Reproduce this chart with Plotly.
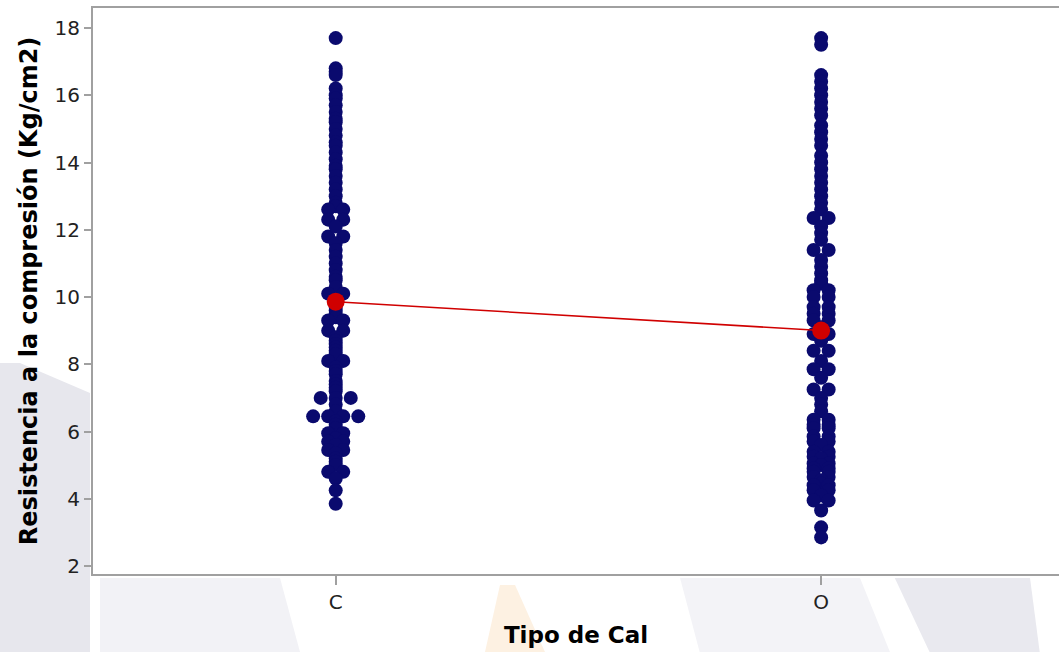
import plotly.graph_objects as go
from collections import defaultdict

# Categories on the x axis
categorias = ["C", "O"]

# Compressive strength readings (Kg/cm2) for lime type C
resistencia_c = [
    17.7,
    16.8, 16.7, 16.6, 16.2, 16.0, 15.9, 15.7, 15.5, 15.3, 15.2, 15.0, 14.8,
    14.6, 14.5, 14.3, 14.1, 13.9, 13.8, 13.6, 13.4, 13.2, 13.0, 12.8, 12.7,
    12.6, 12.6, 12.3, 12.3, 11.8, 11.8,
    12.1, 11.6, 11.4, 11.2, 11.0, 10.8, 10.6, 10.5, 10.3,
    10.1, 10.1,
    9.9, 9.8, 9.7, 9.6, 9.5, 9.4,
    9.3, 9.3, 9.0, 9.0,
    8.8, 8.7, 8.6, 8.5, 8.4, 8.3,
    8.1, 8.1,
    7.9, 7.8, 7.7, 7.5, 7.4, 7.3, 7.2,
    7.0, 7.0, 7.0,
    6.8, 6.6,
    6.45, 6.45, 6.45, 6.45,
    6.3, 6.2, 6.1,
    5.95, 5.95, 5.8, 5.7, 5.7, 5.6, 5.45, 5.45, 5.35,
    5.2, 5.1, 5.0,
    4.8, 4.8,
    4.6, 4.25, 3.85,
]

# Compressive strength readings (Kg/cm2) for lime type O
resistencia_o = [
    17.7, 17.5,
    16.6, 16.4, 16.2, 16.0, 15.8, 15.6, 15.4, 15.1, 14.9, 14.7, 14.5, 14.2,
    14.0, 13.8, 13.6, 13.4, 13.2, 13.0, 12.8, 12.6,
    12.35, 12.35, 11.4, 11.4,
    12.1, 11.9, 11.7, 11.1, 10.9, 10.7, 10.5,
    10.4,
    10.2, 10.2, 10.0, 10.0, 9.7, 9.7, 9.5, 9.5, 9.3, 9.3,
    9.1,
    8.9, 8.9,
    8.7,
    8.4, 8.4,
    8.1,
    7.85, 7.85,
    7.6,
    7.25, 7.25,
    7.0, 6.8, 6.6,
    6.35, 6.35, 6.2, 6.2, 6.1, 6.1, 5.85, 5.85, 5.7, 5.7,
    5.6,
    5.4, 5.4, 5.25, 5.25,
    5.2,
    5.05, 5.05,
    5.0,
    4.9, 4.9, 4.8, 4.8, 4.65, 4.65,
    4.55, 4.45,
    4.4, 4.4, 4.25, 4.25,
    4.1,
    3.95, 3.95,
    3.65, 3.15, 2.85,
]

series = [resistencia_c, resistencia_o]

# Horizontal spacing (in category units) between tied values
PASO = 0.031

AZUL = "#0a0a6e"
ROJO = "#d00000"
GRIS = "#a0a0a0"


def posiciones(indice, valores):
    """Spread identical values side by side around the category centre."""
    conteo = defaultdict(int)
    for v in valores:
        conteo[round(v, 3)] += 1
    usados = defaultdict(int)
    xs = []
    for v in valores:
        k = round(v, 3)
        n = conteo[k]
        i = usados[k]
        usados[k] += 1
        xs.append(indice + (i - (n - 1) / 2) * PASO)
    return xs


fig = go.Figure()

# Faint background emblem, kept to the margins around the plotting area
fondo = [
    ("M-0.0963,0.3728 L-0.0756,0.3728 L-0.0031,0.3198 L-0.0031,-0.1378 L-0.0963,-0.1378 Z",
     "#e7e7ed"),
    ("M0.0072,-0.007 L0.1936,-0.007 L0.2143,-0.1378 L0.0072,-0.1378 Z", "#f2f2f6"),
    ("M0.4213,-0.0194 L0.4369,-0.0194 L0.4679,-0.1378 L0.4058,-0.1378 Z", "#fdf1e2"),
    ("M0.6077,-0.007 L0.794,-0.007 L0.825,-0.1378 L0.628,-0.1378 Z", "#f3f3f7"),
    ("M0.830,-0.007 L0.970,-0.007 L0.980,-0.1378 L0.866,-0.1378 Z", "#e9e9ef"),
]
for ruta, color in fondo:
    fig.add_shape(type="path", path=ruta, xref="paper", yref="paper",
                  fillcolor=color, line=dict(width=0), layer="below")

for idx, valores in enumerate(series):
    fig.add_trace(go.Scatter(
        x=posiciones(idx, valores), y=valores, mode="markers",
        marker=dict(color=AZUL, size=14, line=dict(width=0)),
        showlegend=False, hoverinfo="y",
    ))

medias = [sum(v) / len(v) for v in series]
fig.add_trace(go.Scatter(
    x=list(range(len(categorias))), y=medias, mode="lines+markers",
    line=dict(color=ROJO, width=1.6),
    marker=dict(color=ROJO, size=18),
    showlegend=False, hoverinfo="y",
))

fuente = "DejaVu Sans"
fig.update_layout(
    width=1059, height=652,
    margin=dict(l=93, r=0, t=8, b=78),
    paper_bgcolor="white",
    plot_bgcolor="white",
    font=dict(family=fuente, color="#222222", size=20),
    xaxis=dict(
        range=[-0.5, 1.49],
        tickmode="array", tickvals=[0, 1], ticktext=categorias,
        ticks="outside", ticklen=9, tickwidth=2, tickcolor=GRIS,
        showline=True, linecolor=GRIS, linewidth=2, mirror=True,
        showgrid=False, zeroline=False,
        title=dict(text="<b>Tipo de Cal</b>", font=dict(size=23, color="#000000"),
                   standoff=14),
    ),
    yaxis=dict(
        range=[1.762, 18.595],
        tickvals=[2, 4, 6, 8, 10, 12, 14, 16, 18],
        ticks="outside", ticklen=7, tickwidth=2, tickcolor=GRIS,
        showline=True, linecolor=GRIS, linewidth=2, mirror=False,
        showgrid=False, zeroline=False,
        title=dict(text="<b>Resistencia a la compresión (Kg/cm2)</b>",
                   font=dict(size=24, color="#000000"), standoff=10),
    ),
)

fig.write_html("out.html")
